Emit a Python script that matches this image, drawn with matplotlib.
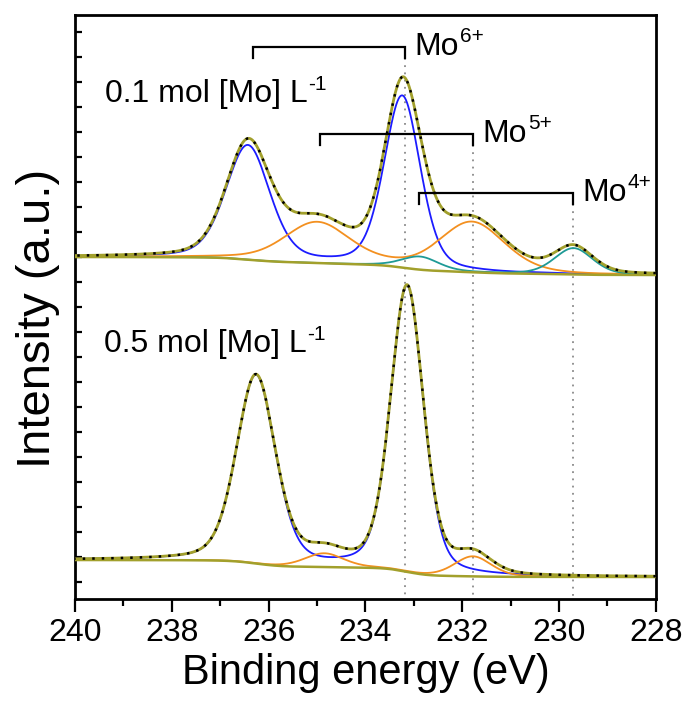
import numpy as np
import matplotlib.pyplot as plt

plt.rcParams['font.family'] = ['Liberation Sans', 'DejaVu Sans']

# ---- peak parameters (binding energy eV, height, fwhm eV)
# 0.1 mol [Mo] L-1 (upper spectrum)
top_mo6_pos = [236.43, 233.24]
top_mo6_h = [4.55, 6.85]
top_mo6_w = [1.07, 0.88]
top_mo5_pos = [235.00, 231.80]
top_mo5_h = [1.62, 2.00]
top_mo5_w = [1.60, 1.60]
top_mo4_pos = [232.87, 229.70]
top_mo4_h = [0.52, 1.05]
top_mo4_w = [0.90, 0.93]
top_base = [13.00, 12.28]      # baseline level at 240 eV and 228 eV

# 0.5 mol [Mo] L-1 (lower spectrum)
bot_mo6_pos = [236.26, 233.14]
bot_mo6_h = [7.50, 11.40]
bot_mo6_w = [0.95, 0.80]
bot_mo5_pos = [234.85, 231.78]
bot_mo5_h = [0.55, 0.80]
bot_mo5_w = [0.95, 0.90]
bot_base = [0.88, 0.20]

# marker positions of the oxidation states
state_names = ['Mo', 'Mo', 'Mo']
state_sup = ['6+', '5+', '4+']
state_left = [236.32, 234.94, 232.89]
state_right = [233.18, 231.78, 229.71]
state_level = [21.4, 17.92, 15.56]

be = np.linspace(228, 240, 1500)


def pv(x, c, h, w, eta=0.3):
    g = np.exp(-4 * np.log(2) * (x - c) ** 2 / w ** 2)
    l = 1.0 / (1 + 4 * (x - c) ** 2 / w ** 2)
    return h * (eta * l + (1 - eta) * g)


def spectrum(groups, base):
    comps = []
    for pos, hh, ww in groups:
        comps.append(sum(pv(be, c, h, w) for c, h, w in zip(pos, hh, ww)))
    tot = sum(comps)
    cum = np.concatenate([[0], np.cumsum((tot[1:] + tot[:-1]) / 2 * np.diff(be))])
    bl = base[1] + (base[0] - base[1]) * cum / cum[-1]
    return bl, comps, bl + tot


def sup_text(ax, x, y, base, sup, size=23):
    t = ax.text(x, y, base, fontsize=size, va='baseline', ha='left')
    ax.annotate(sup, xy=(1, 1), xycoords=t, xytext=(0.5, 3), textcoords='offset points',
                fontsize=15, va='top', ha='left')
    return t


cols = ['#1c1cff', '#f39020', '#1e9a96']
olive = '#a2a02c'

fig = plt.figure(figsize=(6.85, 7.11), dpi=100)
ax = fig.add_axes([0.1095, 0.1575, 0.848, 0.8214])

for groups, base in [((
        (top_mo6_pos, top_mo6_h, top_mo6_w),
        (top_mo5_pos, top_mo5_h, top_mo5_w),
        (top_mo4_pos, top_mo4_h, top_mo4_w)), top_base),
        (((bot_mo6_pos, bot_mo6_h, bot_mo6_w),
          (bot_mo5_pos, bot_mo5_h, bot_mo5_w)), bot_base)]:
    bl, comps, env = spectrum(groups, base)
    for k, cp in enumerate(comps):
        ax.plot(be, bl + cp, color=cols[k], lw=1.3, zorder=3)
    ax.plot(be, bl, color=olive, lw=1.8, zorder=3)
    ax.plot(be, env, color=olive, lw=2.0, zorder=4)
    ax.plot(be, env, color='k', lw=1.8, ls=(0, (1, 2.8)), zorder=5)

# oxidation state brackets + guide lines
for name, sp, xl, xr, lev in zip(state_names, state_sup, state_left, state_right, state_level):
    ax.plot([xl, xl, xr, xr], [lev - 0.42, lev, lev, lev - 0.42], color='k', lw=1.6,
            solid_joinstyle='miter', zorder=6)
    ax.plot([xr, xr], [lev - 0.42, -0.68], color='#8a8a8a', lw=1.3,
            ls=(0, (1, 3)), zorder=2)
    sup_text(ax, xr - 0.2, lev - 0.3, name, sp)

sup_text(ax, 239.38, 19.2, '0.1 mol [Mo] L', '-1')
sup_text(ax, 239.40, 9.2, '0.5 mol [Mo] L', '-1')

ax.set_xlim(240, 228)
ax.set_ylim(-0.68, 22.68)
ax.set_xticks(np.arange(240, 227, -2))
ax.set_xticks(np.arange(239, 228, -2), minor=True)
ax.set_yticks(np.arange(0, 23, 1))
ax.set_yticklabels([])
ax.tick_params(axis='x', which='major', direction='out', length=9.5, width=1.6,
               labelsize=23, pad=4)
ax.tick_params(axis='x', which='minor', direction='out', length=5, width=1.6)
ax.tick_params(axis='y', direction='in', length=5, width=1.6, left=True, right=False)
for s in ax.spines.values():
    s.set_linewidth(2)

ax.set_xlabel('Binding energy (eV)', fontsize=30, labelpad=4)
ax.set_ylabel('Intensity (a.u.)', fontsize=34)
ax.yaxis.set_label_coords(-0.026, 0.48)

fig.savefig('out.png', dpi=100)
